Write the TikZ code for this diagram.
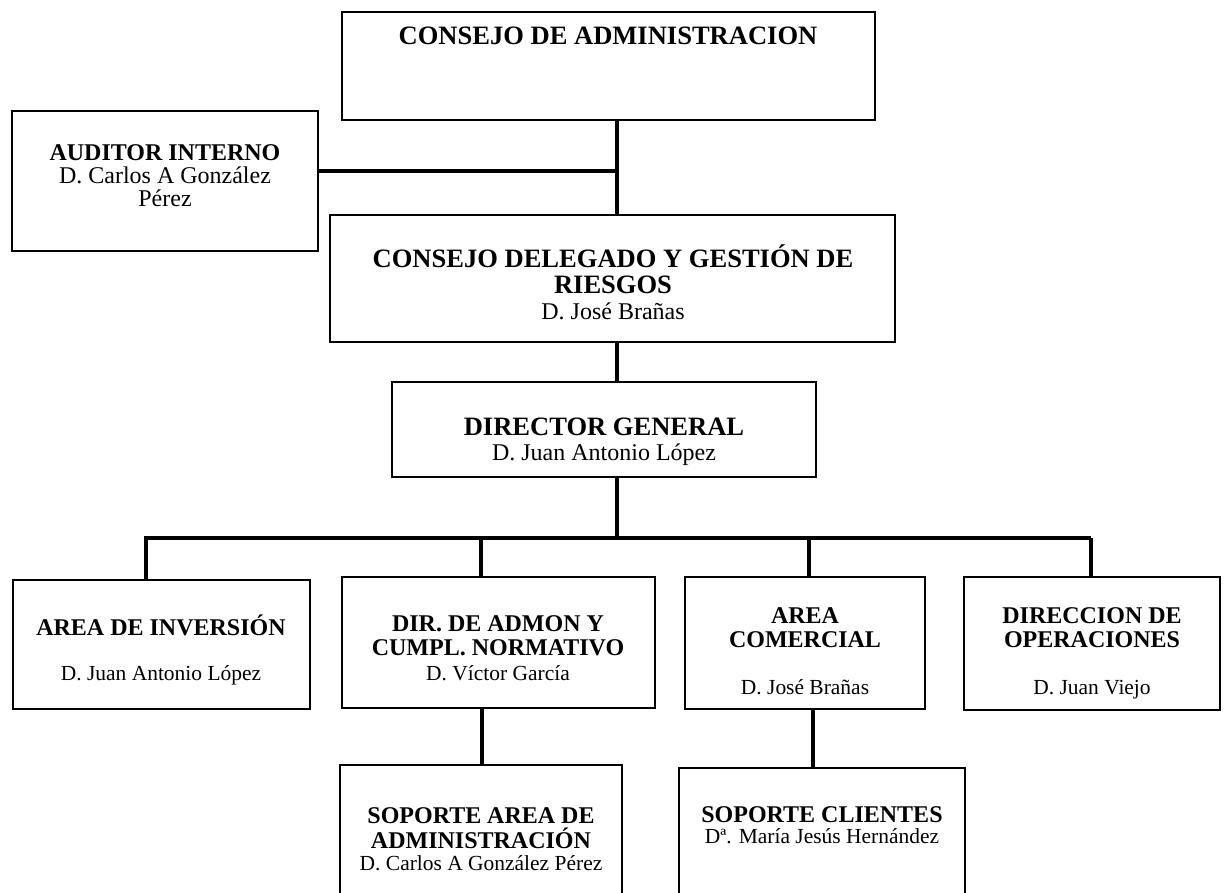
\documentclass[tikz,border=0pt]{standalone}
\usepackage{fontspec}
\setmainfont{Liberation Serif}
\usetikzlibrary{fit}
\begin{document}
\begin{tikzpicture}[x=0.75pt,y=-0.75pt,
  box/.style={draw=black, line width=1.6pt, inner sep=0pt},
  conn/.style={draw=black, line width=2.6pt},
  thick conn/.style={draw=black, line width=3.4pt},
  tA/.style={anchor=base, inner sep=0pt, font=\fontsize{19.9}{22}\selectfont\bfseries},
  nA/.style={anchor=base, inner sep=0pt, font=\fontsize{18}{20}\selectfont},
  tB/.style={anchor=base, inner sep=0pt, font=\fontsize{18}{20}\selectfont\bfseries},
  nB/.style={anchor=base, inner sep=0pt, font=\fontsize{16.1}{18}\selectfont}]
\useasboundingbox (0,0) rectangle (1226,892);
\fill[white] (0,0) rectangle (1226,892);

% boxes
\node[box, fit={(342,12) (875,120)}] (adm) {};
\node[box, fit={(12,111) (318,251)}] (aud) {};
\node[box, fit={(330,215) (895,342)}] (del) {};
\node[box, fit={(392,382) (816,477)}] (dir) {};
\node[box, fit={(13,580) (310,709)}] (inv) {};
\node[box, fit={(342,577) (655,708)}] (admon) {};
\node[box, fit={(685,577) (925,709)}] (com) {};
\node[box, fit={(964,577) (1220,710)}] (ops) {};
\node[box, fit={(340,765) (622,905)}] (sop1) {};
\node[box, fit={(679,768) (965,905)}] (sop2) {};

% texts
\node[tA] (admT) at (608,45) {CONSEJO DE ADMINISTRACION};

\node[tB] (audT) at (165,160) {AUDITOR INTERNO};
\node[nA] (audN1) at (165,183) {D. Carlos A González};
\node[nA] (audN2) at (165,206) {Pérez};

\node[tA] (delT1) at (613,267) {CONSEJO DELEGADO Y GESTIÓN DE};
\node[tA] (delT2) at (613,293) {RIESGOS};
\node[nA] (delN) at (613,319) {D. José Brañas};

\node[tA] (dirT) at (604,435) {DIRECTOR GENERAL};
\node[nA] (dirN) at (604,460) {D. Juan Antonio López};

\node[tB] (invT) at (161,635) {AREA DE INVERSIÓN};
\node[nB] (invN) at (161,680) {D. Juan Antonio López};

\node[tB] (admonT1) at (498,631) {DIR. DE ADMON Y};
\node[tB] (admonT2) at (498,655) {CUMPL. NORMATIVO};
\node[nB] (admonN) at (498,680) {D. Víctor García};

\node[tB] (comT1) at (805,623) {AREA};
\node[tB] (comT2) at (805,647) {COMERCIAL};
\node[nB] (comN) at (805,694) {D. José Brañas};

\node[tB] (opsT1) at (1092,623) {DIRECCION DE};
\node[tB] (opsT2) at (1092,647) {OPERACIONES};
\node[nB] (opsN) at (1092,694) {D. Juan Viejo};

\node[tB] (sop1T1) at (481,823) {SOPORTE AREA DE};
\node[tB] (sop1T2) at (481,848) {ADMINISTRACIÓN};
\node[nB] (sop1N) at (481,870) {D. Carlos A González Pérez};

\node[tB] (sop2T) at (822,822) {SOPORTE CLIENTES};
\node[nB] (sop2N) at (822,843) {Dª. María Jesús Hernández};

% connector coordinates
\coordinate (cx) at (617,0);
\coordinate (aj) at (617,171);
\coordinate (bus) at (617,538);
\coordinate (d1) at (146,538);
\coordinate (d2) at (481,538);
\coordinate (d3) at (809,538);
\coordinate (d4) at (1091,538);
\coordinate (e1) at (482,0);
\coordinate (e2) at (813,0);

% connectors
\draw[conn] (adm.south -| cx) -- (del.north -| cx);
\draw[thick conn] (aud.east |- aj) -- (aj);
\draw[conn] (del.south -| cx) -- (dir.north -| cx);
\draw[conn] (dir.south -| cx) -- (bus);
\draw[conn] (d1 |- inv.north) -- (d1) -- (d4);
\draw[thick conn] (d4) -- (d4 |- ops.north);
\draw[conn] (d2) -- (d2 |- admon.north);
\draw[conn] (d3) -- (d3 |- com.north);
\draw[conn] (admon.south -| e1) -- (sop1.north -| e1);
\draw[conn] (com.south -| e2) -- (sop2.north -| e2);
\end{tikzpicture}
\end{document}
